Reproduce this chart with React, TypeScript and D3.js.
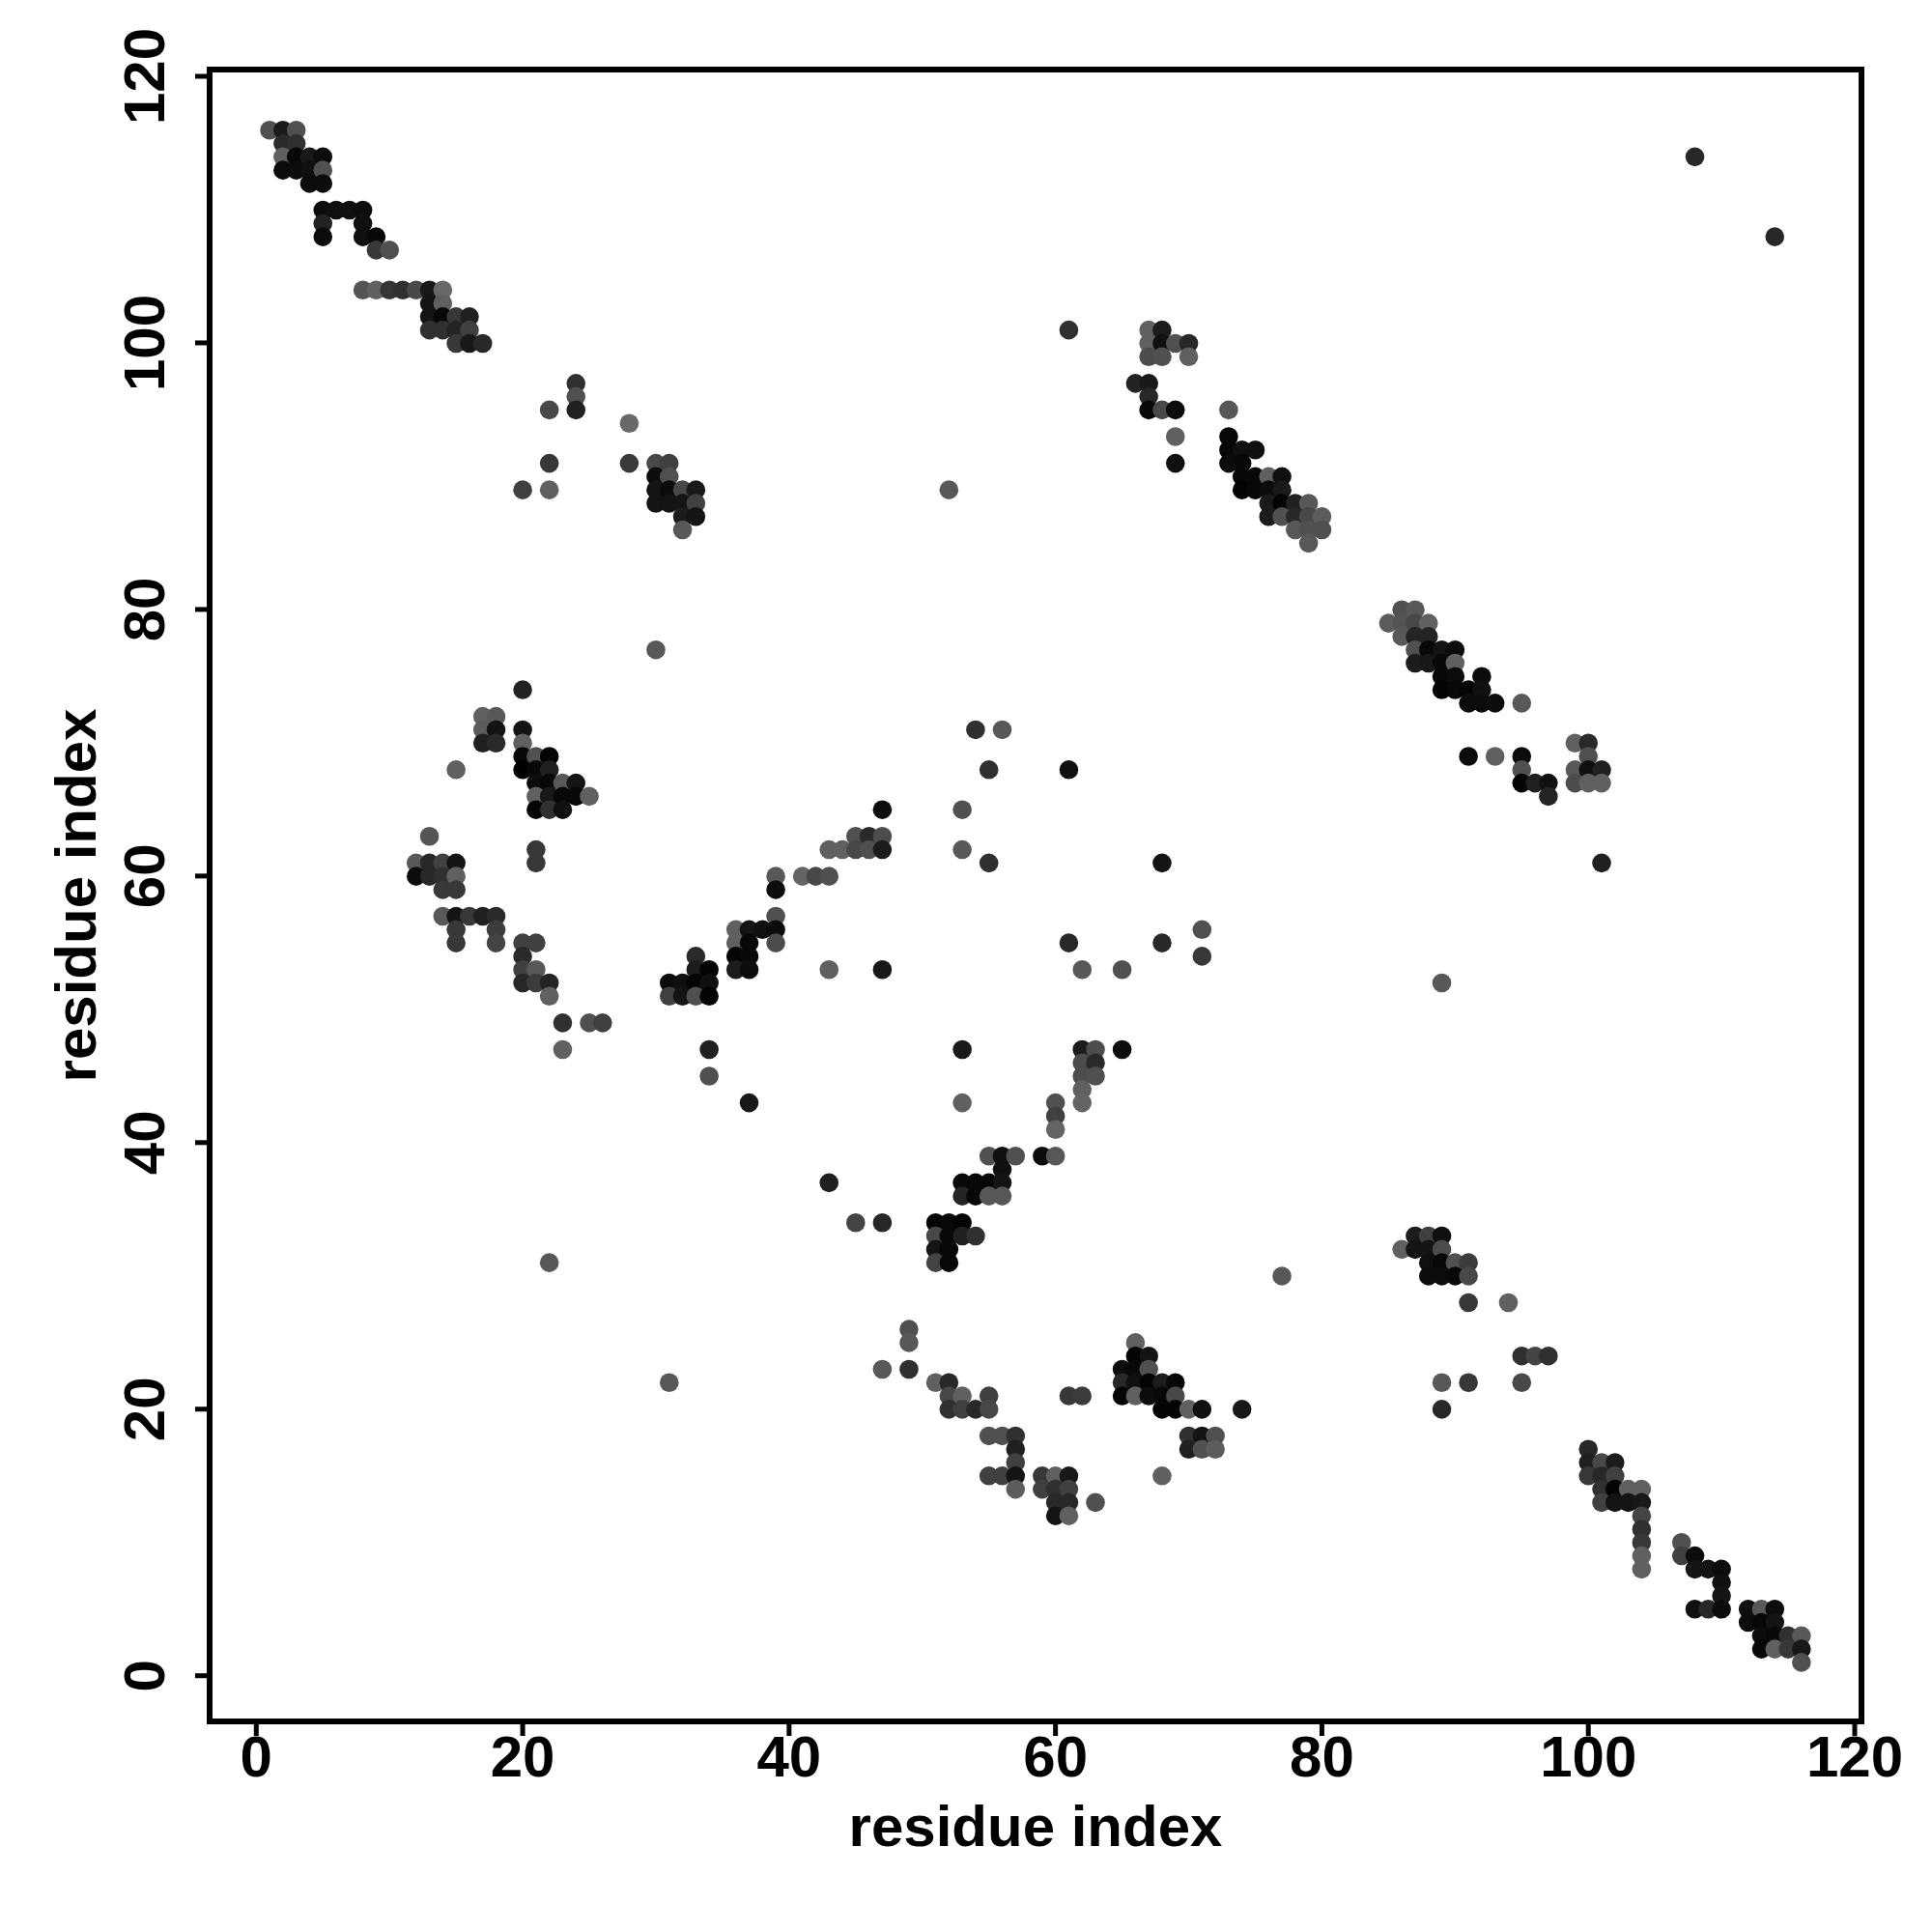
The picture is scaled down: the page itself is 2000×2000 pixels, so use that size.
import React from "react";
import * as d3 from "d3";

// [residue x, residue y, grey level]
const topLeftBand: number[][] = [
  [1,116,0x50],[2,116,0x1a],[3,116,0x50],[2,115,0x2a],[3,115,0x30],[2,114,0x60],[3,114,0x08],[4,114,0x18],[5,114,0x0c],
  [2,113,0x0c],[3,113,0x0c],[4,113,0x10],[5,113,0x50],[4,112,0x0c],[5,112,0x0c],[5,110,0x0c],[6,110,0x10],[7,110,0x10],[8,110,0x0c],
  [5,109,0x22],[8,109,0x10],[5,108,0x0c],[8,108,0x10],[9,108,0x08],[9,107,0x38],[10,107,0x50],
  [8,104,0x55],[9,104,0x60],[10,104,0x35],[11,104,0x30],[12,104,0x48],[13,104,0x18],[14,104,0x68],[13,103,0x14],[14,103,0x60],
  [13,102,0x14],[14,102,0x08],[15,102,0x38],[16,102,0x20],[13,101,0x30],[14,101,0x30],[15,101,0x24],[16,101,0x40],[15,100,0x38],[16,100,0x18],[17,100,0x28],
];
const upperMiddleCluster: number[][] = [
  [24,97,0x30],[24,96,0x50],[24,95,0x20],[22,95,0x48],[28,94,0x68],[22,91,0x38],[28,91,0x3a],[30,91,0x48],[31,91,0x40],
  [30,90,0x0c],[31,90,0x50],[30,89,0x14],[31,89,0x0c],[32,89,0x48],[33,89,0x18],[20,89,0x40],[22,89,0x60],
  [30,88,0x14],[31,88,0x14],[32,88,0x14],[33,88,0x40],[32,87,0x1c],[33,87,0x14],[32,86,0x58],
];
const upperRightBand: number[][] = [
  [67,101,0x60],[68,101,0x1c],[67,100,0x60],[68,100,0x10],[69,100,0x50],[70,100,0x28],[67,99,0x4c],[68,99,0x50],[70,99,0x60],
  [66,97,0x22],[67,97,0x18],[67,96,0x28],[67,95,0x08],[68,95,0x48],[69,95,0x0c],[69,93,0x60],[69,91,0x10],[73,95,0x58],
  [73,93,0x08],[73,92,0x08],[74,92,0x10],[75,92,0x10],[73,91,0x0c],[74,91,0x08],[74,90,0x08],[75,90,0x08],[76,90,0x60],[77,90,0x10],
  [74,89,0x04],[75,89,0x08],[76,89,0x0c],[77,89,0x1a],[76,88,0x1a],[77,88,0x04],[78,88,0x20],[79,88,0x58],
  [76,87,0x1c],[77,87,0x50],[78,87,0x28],[79,87,0x48],[80,87,0x5c],[78,86,0x58],[79,86,0x50],[80,86,0x50],[79,85,0x58],
];
const rightBand: number[][] = [
  [86,80,0x50],[87,80,0x58],[85,79,0x5c],[86,79,0x54],[87,79,0x48],[88,79,0x60],[86,78,0x58],[87,78,0x24],[88,78,0x24],
  [87,77,0x50],[88,77,0x08],[89,77,0x14],[90,77,0x0c],[87,76,0x1c],[88,76,0x18],[89,76,0x08],[90,76,0x60],[89,75,0x08],[90,75,0x0c],[92,75,0x0c],
  [89,74,0x04],[90,74,0x08],[91,74,0x04],[92,74,0x10],[91,73,0x0c],[92,73,0x0c],[93,73,0x0c],[95,73,0x58],
  [91,69,0x0c],[93,69,0x60],[95,69,0x0c],[95,68,0x50],[95,67,0x04],[96,67,0x20],[97,67,0x10],[97,66,0x24],
  [99,70,0x60],[100,70,0x2a],[100,69,0x50],[99,68,0x58],[100,68,0x10],[101,68,0x20],[99,67,0x4c],[100,67,0x60],[101,67,0x60],
];
const leftCluster: number[][] = [
  [20,74,0x22],[17,72,0x60],[18,72,0x58],[17,71,0x5c],[18,71,0x14],[20,71,0x14],[17,70,0x20],[18,70,0x2a],[20,70,0x60],[15,68,0x60],
  [20,69,0x08],[21,69,0x50],[22,69,0x04],[20,68,0x00],[21,68,0x08],[22,68,0x20],[21,67,0x0c],[22,67,0x08],[23,67,0x58],[24,67,0x14],
  [21,66,0x60],[22,66,0x18],[23,66,0x08],[24,66,0x08],[25,66,0x60],[21,65,0x04],[22,65,0x30],[23,65,0x10],
  [13,63,0x55],[21,62,0x38],[21,61,0x38],[12,61,0x58],[13,61,0x28],[14,61,0x40],[15,61,0x14],[12,60,0x0c],[13,60,0x28],[14,60,0x30],[15,60,0x60],[14,59,0x38],[15,59,0x38],
  [14,57,0x58],[15,57,0x14],[16,57,0x38],[17,57,0x20],[18,57,0x2a],[15,56,0x38],[18,56,0x3c],[15,55,0x38],[18,55,0x44],
  [20,55,0x40],[21,55,0x40],[20,54,0x2a],[20,53,0x40],[21,53,0x58],[20,52,0x28],[21,52,0x3c],[22,52,0x24],[22,51,0x60],[23,49,0x30],[25,49,0x50],[26,49,0x40],[23,47,0x60],
];
const centerRisingBand: number[][] = [
  [47,65,0x0c],[45,63,0x50],[46,63,0x2a],[47,63,0x4c],[43,62,0x60],[44,62,0x60],[45,62,0x48],[46,62,0x50],[47,62,0x1c],
  [39,60,0x58],[41,60,0x64],[42,60,0x48],[43,60,0x50],[39,59,0x0c],[39,57,0x50],[36,56,0x60],[37,56,0x14],[38,56,0x10],[39,56,0x0c],
  [36,55,0x60],[37,55,0x08],[39,55,0x4c],[36,54,0x04],[37,54,0x08],[36,53,0x1c],[37,53,0x0c],[43,53,0x60],[47,53,0x18],
  [33,54,0x2a],[33,53,0x1c],[34,53,0x04],[31,52,0x0c],[32,52,0x10],[33,52,0x04],[34,52,0x10],[31,51,0x40],[32,51,0x14],[33,51,0x50],[34,51,0x04],
];
const lowerRisingBand: number[][] = [
  [53,47,0x1a],[62,47,0x1c],[63,47,0x4c],[65,47,0x0c],[62,46,0x4c],[63,46,0x2a],[62,45,0x4c],[63,45,0x50],[62,44,0x60],[62,43,0x64],[53,43,0x60],
  [60,43,0x50],[60,42,0x40],[60,41,0x64],[55,39,0x50],[56,39,0x10],[57,39,0x50],[59,39,0x0c],[60,39,0x58],[56,38,0x10],
  [53,37,0x08],[54,37,0x08],[55,37,0x08],[56,37,0x14],[53,36,0x24],[54,36,0x08],[55,36,0x58],[56,36,0x58],
  [51,34,0x04],[52,34,0x08],[53,34,0x04],[51,33,0x48],[52,33,0x08],[53,33,0x20],[54,33,0x30],[51,32,0x14],[52,32,0x08],[51,31,0x44],[52,31,0x08],
];
const lowerMiddleCluster: number[][] = [
  [66,25,0x60],[66,24,0x04],[67,24,0x14],[65,23,0x0c],[66,23,0x08],[67,23,0x50],[65,22,0x28],[66,22,0x10],[67,22,0x04],[68,22,0x1c],[69,22,0x08],
  [65,21,0x04],[66,21,0x60],[67,21,0x0c],[68,21,0x08],[69,21,0x48],[68,20,0x04],[69,20,0x04],[70,20,0x60],[71,20,0x10],[74,20,0x18],
  [70,18,0x30],[71,18,0x14],[72,18,0x50],[70,17,0x20],[71,17,0x50],[72,17,0x5c],[68,15,0x60],
  [51,22,0x60],[52,22,0x28],[52,21,0x48],[53,21,0x60],[55,21,0x40],[52,20,0x30],[53,20,0x40],[54,20,0x28],[55,20,0x48],[61,21,0x38],[62,21,0x3c],
  [55,18,0x50],[56,18,0x50],[57,18,0x30],[57,17,0x20],[57,16,0x40],[55,15,0x40],[56,15,0x40],[57,15,0x14],[57,14,0x5c],
  [59,15,0x38],[60,15,0x60],[61,15,0x18],[59,14,0x40],[60,14,0x30],[61,14,0x40],[60,13,0x28],[61,13,0x28],[63,13,0x50],[60,12,0x14],[61,12,0x60],
];
const bottomRightBand: number[][] = [
  [100,17,0x28],[100,16,0x20],[101,16,0x48],[102,16,0x1c],[100,15,0x38],[101,15,0x28],[102,15,0x40],[101,14,0x30],[102,14,0x04],[103,14,0x60],[104,14,0x60],
  [101,13,0x40],[102,13,0x14],[103,13,0x14],[104,13,0x18],[104,12,0x44],[104,11,0x30],[104,10,0x38],[104,9,0x60],[104,8,0x60],
  [107,10,0x50],[107,9,0x40],[108,9,0x0c],[108,8,0x14],[109,8,0x14],[110,8,0x0c],[110,7,0x10],[110,6,0x14],[108,5,0x10],[109,5,0x28],[110,5,0x0c],
  [112,5,0x10],[113,5,0x58],[114,5,0x0c],[112,4,0x0c],[113,4,0x08],[114,4,0x14],[113,3,0x0c],[114,3,0x08],[115,3,0x30],[116,3,0x58],
  [113,2,0x08],[114,2,0x60],[115,2,0x38],[116,2,0x18],[116,1,0x50],
];
const lowerRightCluster: number[][] = [
  [87,33,0x1c],[88,33,0x40],[89,33,0x10],[86,32,0x60],[87,32,0x14],[88,32,0x14],[89,32,0x4c],[88,31,0x10],[89,31,0x08],[90,31,0x50],[91,31,0x3c],
  [88,30,0x0c],[89,30,0x0c],[90,30,0x08],[91,30,0x48],[91,28,0x38],[94,28,0x60],
];
const isolated: number[][] = [
  [108,114,0x28],[114,108,0x28],[61,101,0x30],[52,89,0x58],[30,77,0x58],[54,71,0x30],[56,71,0x58],[55,68,0x30],[61,68,0x10],[53,65,0x50],[53,62,0x58],[55,61,0x30],
  [68,61,0x14],[101,61,0x20],[71,56,0x50],[71,54,0x38],[61,55,0x28],[68,55,0x28],[62,53,0x58],[65,53,0x50],[89,52,0x58],[34,47,0x20],[34,45,0x50],[37,43,0x18],
  [43,37,0x20],[45,34,0x44],[47,34,0x28],[22,31,0x58],[77,30,0x58],[49,26,0x50],[49,25,0x58],[47,23,0x58],[49,23,0x30],[31,22,0x58],
  [95,24,0x30],[96,24,0x44],[97,24,0x30],[89,22,0x58],[91,22,0x38],[95,22,0x48],[89,20,0x28],
];

const contacts = [
  ...topLeftBand, ...upperMiddleCluster, ...upperRightBand, ...rightBand, ...leftCluster,
  ...centerRisingBand, ...lowerRisingBand, ...lowerMiddleCluster, ...bottomRightBand, ...lowerRightCluster, ...isolated,
];
const tickValues = [0, 20, 40, 60, 80, 100, 120];
const axisTitle = "residue index";

const x = d3.scaleLinear().domain([0, 120]).range([265.3, 1920]);
const y = d3.scaleLinear().domain([0, 120]).range([1734.7, 79.6]);
const tickY = d3.scaleLinear().domain([0, 120]).range([1734.7, 79]);
const font = "'Liberation Sans', Arial, sans-serif";
const fontSize = 60;

export default function App() {
  return (
    <svg width={2000} height={2000} viewBox="0 0 2000 2000" style={{ position: "absolute", left: 0, top: 0, background: "#fff" }}>
      <rect x={217} y={72} width={1710} height={1710} fill="none" stroke="#000" strokeWidth={6} />
      {tickValues.map((t) => (
        <g key={t}>
          <line x1={x(t)} x2={x(t)} y1={1782} y2={1797} stroke="#000" strokeWidth={5} />
          <text x={x(t)} y={1839} textAnchor="middle" fontFamily={font} fontWeight="bold" fontSize={fontSize} fill="#000">{t}</text>
          <line x1={202} x2={217} y1={tickY(t)} y2={tickY(t)} stroke="#000" strokeWidth={5} />
          <text transform={`translate(170,${tickY(t)}) rotate(-90)`} textAnchor="middle" fontFamily={font} fontWeight="bold" fontSize={fontSize} fill="#000">{t}</text>
        </g>
      ))}
      <text x={1072} y={1911} textAnchor="middle" fontFamily={font} fontWeight="bold" fontSize={fontSize} fill="#000">{axisTitle}</text>
      <text transform="translate(99,927) rotate(-90)" textAnchor="middle" fontFamily={font} fontWeight="bold" fontSize={fontSize} fill="#000">{axisTitle}</text>
      <g>
        {contacts.map(([cx, cy, g], i) => (
          <circle key={i} cx={x(cx)} cy={y(cy)} r={9.8} fill={d3.rgb(g, g, g).formatHex()} />
        ))}
      </g>
    </svg>
  );
}
